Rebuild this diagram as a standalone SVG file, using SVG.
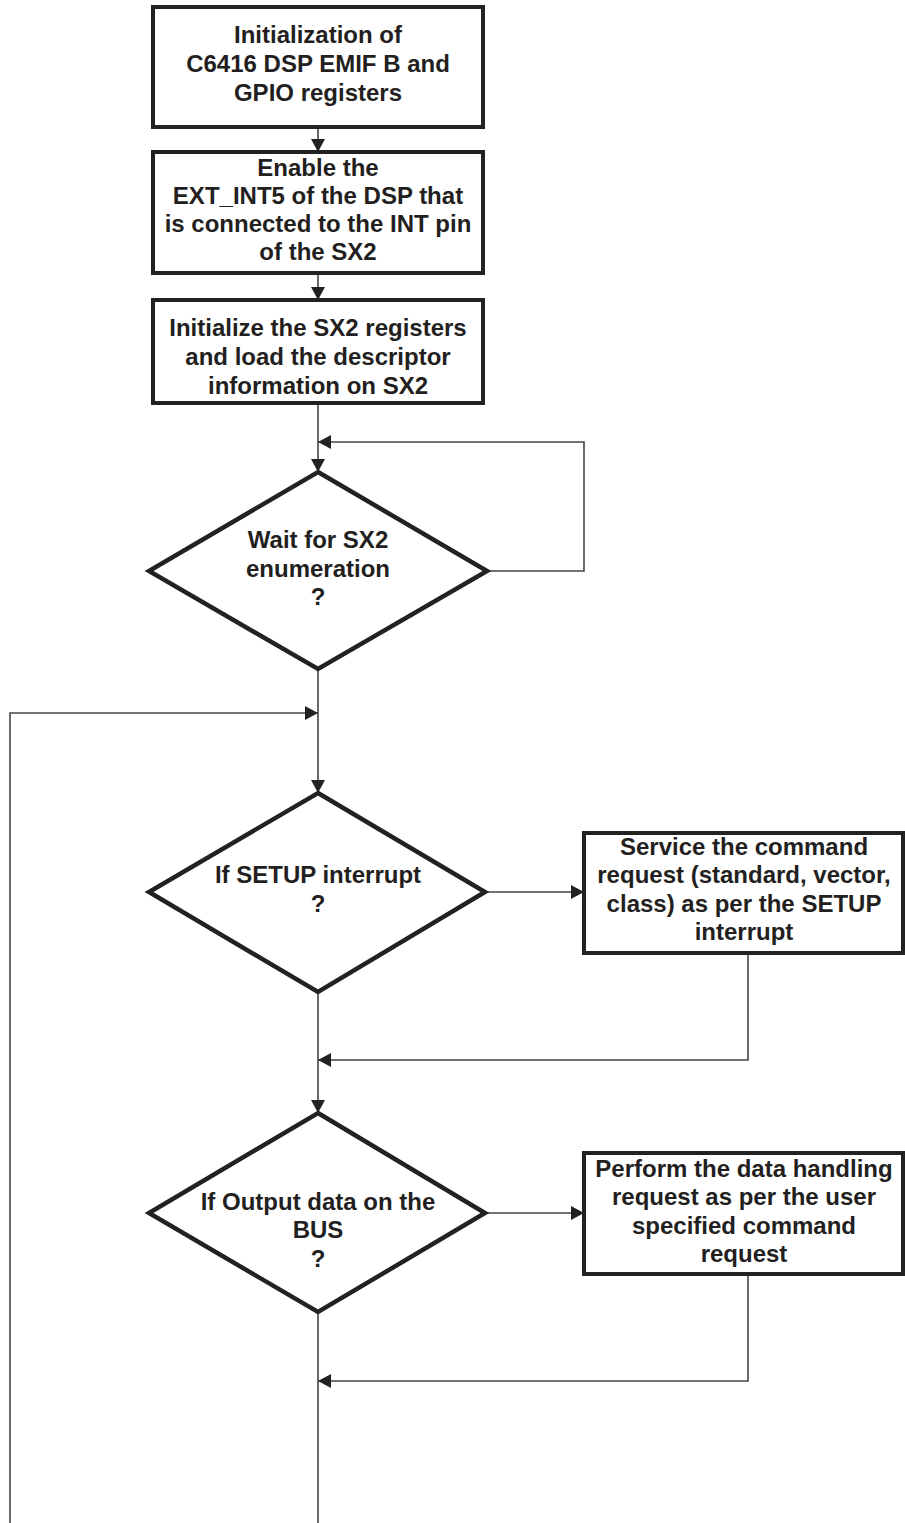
<svg xmlns="http://www.w3.org/2000/svg" width="905" height="1523" viewBox="0 0 905 1523">
<style>
.box{fill:#fff;stroke:#222;stroke-width:4}
.dia{fill:#fff;stroke:#222;stroke-width:4.5;stroke-linejoin:miter}
.t{font-family:"Liberation Sans",Arial,sans-serif;font-weight:bold;font-size:24px;fill:#231f20;text-anchor:middle}
.c{fill:none;stroke:#444;stroke-width:1.6}
</style>
<defs>
<marker id="ah" markerUnits="userSpaceOnUse" markerWidth="14" markerHeight="14" refX="13" refY="7" orient="auto">
<path d="M0,0 L13,7 L0,14 z" fill="#222"/>
</marker>
</defs>
<rect width="905" height="1523" fill="#fff"/>
<g id="connectors">
<line class="c" x1="318" y1="127" x2="318" y2="152" marker-end="url(#ah)"/>
<line class="c" x1="318" y1="273" x2="318" y2="300" marker-end="url(#ah)"/>
<line class="c" x1="318" y1="403" x2="318" y2="472" marker-end="url(#ah)"/>
<polyline class="c" points="487,571 584,571 584,442 318,442" marker-end="url(#ah)"/>
<line class="c" x1="318" y1="669" x2="318" y2="793" marker-end="url(#ah)"/>
<polyline class="c" points="10,1523 10,713 318,713" marker-end="url(#ah)"/>
<line class="c" x1="485" y1="892" x2="584" y2="892" marker-end="url(#ah)"/>
<polyline class="c" points="748,953 748,1060 318,1060" marker-end="url(#ah)"/>
<line class="c" x1="318" y1="992" x2="318" y2="1113" marker-end="url(#ah)"/>
<line class="c" x1="485" y1="1213" x2="584" y2="1213" marker-end="url(#ah)"/>
<polyline class="c" points="748,1274 748,1381 318,1381" marker-end="url(#ah)"/>
<line class="c" x1="318" y1="1312" x2="318" y2="1523"/>
</g>
<g id="init">
<rect class="box" x="153" y="7" width="330" height="120"/>
<text class="t" x="318" y="43">Initialization of</text>
<text class="t" x="318" y="72">C6416 DSP EMIF B and</text>
<text class="t" x="318" y="101">GPIO registers</text>
</g>
<g id="enable">
<rect class="box" x="153" y="152" width="330" height="121"/>
<text class="t" x="318" y="176">Enable the</text>
<text class="t" x="318" y="204">EXT_INT5 of the DSP that</text>
<text class="t" x="318" y="232">is connected to the INT pin</text>
<text class="t" x="318" y="260">of the SX2</text>
</g>
<g id="initsx2">
<rect class="box" x="153" y="300" width="330" height="103"/>
<text class="t" x="318" y="336">Initialize the SX2 registers</text>
<text class="t" x="318" y="365">and load the descriptor</text>
<text class="t" x="318" y="394">information on SX2</text>
</g>
<g id="wait">
<polygon class="dia" points="318,472 487,571 318,669 149,571"/>
<text class="t" x="318" y="548">Wait for SX2</text>
<text class="t" x="318" y="577">enumeration</text>
<text class="t" x="318" y="605">?</text>
</g>
<g id="setup">
<polygon class="dia" points="318,793 485,892 318,992 149,892"/>
<text class="t" x="318" y="883">If SETUP interrupt</text>
<text class="t" x="318" y="912">?</text>
</g>
<g id="service">
<rect class="box" x="584" y="833" width="319" height="120"/>
<text class="t" x="744" y="855">Service the command</text>
<text class="t" x="744" y="883">request (standard, vector,</text>
<text class="t" x="744" y="912">class) as per the SETUP</text>
<text class="t" x="744" y="940">interrupt</text>
</g>
<g id="output">
<polygon class="dia" points="318,1113 485,1213 318,1312 149,1213"/>
<text class="t" x="318" y="1210">If Output data on the</text>
<text class="t" x="318" y="1238">BUS</text>
<text class="t" x="318" y="1267">?</text>
</g>
<g id="perform">
<rect class="box" x="584" y="1153" width="319" height="121"/>
<text class="t" x="744" y="1177">Perform the data handling</text>
<text class="t" x="744" y="1205">request as per the user</text>
<text class="t" x="744" y="1234">specified command</text>
<text class="t" x="744" y="1262">request</text>
</g>
</svg>
